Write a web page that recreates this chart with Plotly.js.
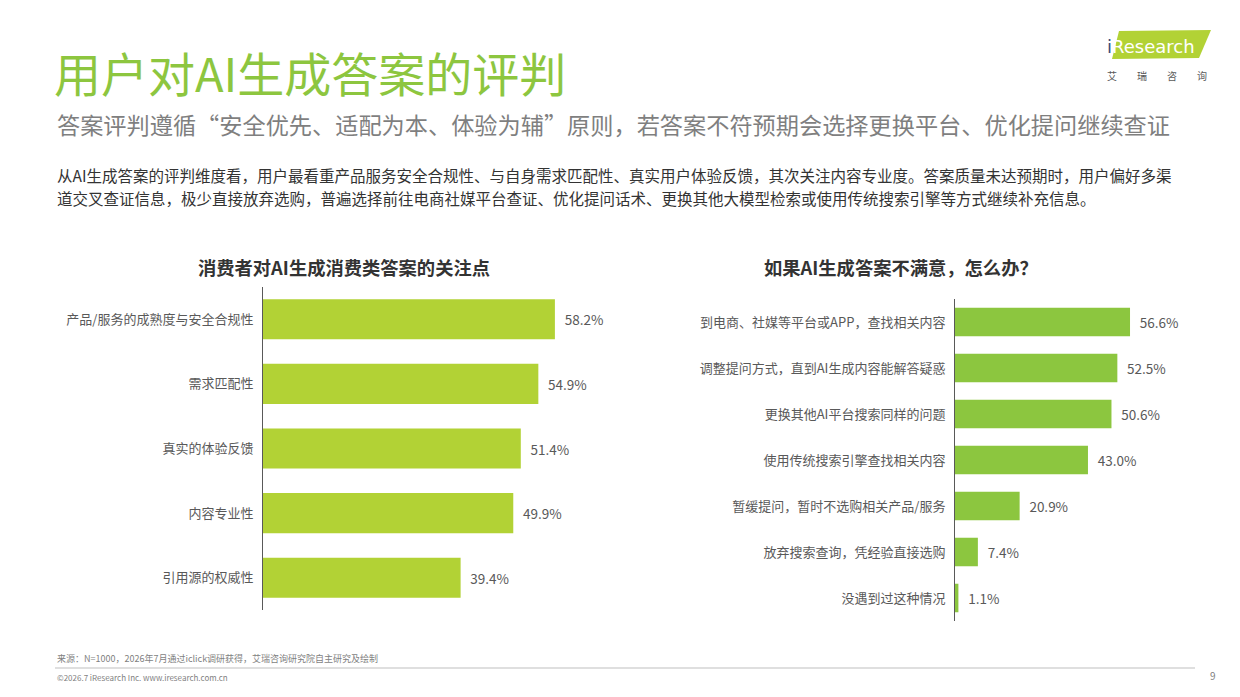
<!DOCTYPE html>
<html>
<head>
<meta charset="utf-8">
<script src="https://cdn.plot.ly/plotly-3.0.1.min.js"></script>
<style>
html,body{margin:0;padding:0;background:#fff;}
#chart{width:1240px;height:697px;}
</style>
</head>
<body>
<div id="chart"></div>
<script>
// ---- data ----
const leftCategories = ["产品/服务的成熟度与安全合规性","需求匹配性","真实的体验反馈","内容专业性","引用源的权威性"];
const leftValues = [58.2, 54.9, 51.4, 49.9, 39.4];

const rightCategories = ["到电商、社媒等平台或APP，查找相关内容","调整提问方式，直到AI生成内容能解答疑惑","更换其他AI平台搜索同样的问题","使用传统搜索引擎查找相关内容","暂缓提问，暂时不选购相关产品/服务","放弃搜索查询，凭经验直接选购","没遇到过这种情况"];
const rightValues = [56.6, 52.5, 50.6, 43.0, 20.9, 7.4, 1.1];

const pageTitle = "用户对AI生成答案的评判";
const subTitle = "答案评判遵循“安全优先、适配为本、体验为辅”原则，若答案不符预期会选择更换平台、优化提问继续查证";
const bodyLine1 = "从AI生成答案的评判维度看，用户最看重产品服务安全合规性、与自身需求匹配性、真实用户体验反馈，其次关注内容专业度。答案质量未达预期时，用户偏好多渠";
const bodyLine2 = "道交叉查证信息，极少直接放弃选购，普遍选择前往电商社媒平台查证、优化提问话术、更换其他大模型检索或使用传统搜索引擎等方式继续补充信息。";
const leftTitle = "消费者对AI生成消费类答案的关注点";
const rightTitle = "如果AI生成答案不满意，怎么办？";
const sourceText = "来源：N=1000，2026年7月通过iclick调研获得，艾瑞咨询研究院自主研究及绘制";
const copyrightText = "©2026.7 iResearch Inc. www.iresearch.com.cn";

// ---- helpers ----
const W = 1240, H = 697;
const px = x => x / W;
const py = y => 1 - y / H;
const FONT = "Noto Sans CJK SC, Noto Sans, sans-serif";

const traces = [
  {
    type: 'bar', orientation: 'h',
    x: leftValues, y: leftCategories,
    xaxis: 'x', yaxis: 'y',
    marker: {color: '#B2D235'},
    texttemplate: '\u2002%{x:.1f}%',
    textposition: 'outside', cliponaxis: false,
    textfont: {size: 13.5, color: '#595959', family: FONT},
    hoverinfo: 'skip'
  },
  {
    type: 'bar', orientation: 'h',
    x: rightValues, y: rightCategories,
    xaxis: 'x2', yaxis: 'y2',
    marker: {color: '#8CC63F'},
    texttemplate: '\u2002%{x:.1f}%',
    textposition: 'outside', cliponaxis: false,
    textfont: {size: 13.5, color: '#595959', family: FONT},
    hoverinfo: 'skip'
  }
];

const hiddenX = {showgrid: false, zeroline: false, showticklabels: false, showline: false, ticks: ''};
const catY = {
  type: 'category', autorange: 'reversed',
  showgrid: false, zeroline: false,
  showline: true, linecolor: '#595959', linewidth: 1,
  ticks: 'outside', ticklen: 6, tickcolor: 'rgba(0,0,0,0)',
  tickfont: {size: 13, color: '#595959', family: FONT}
};

const layout = {
  width: W, height: H,
  margin: {l: 0, r: 0, t: 0, b: 0},
  paper_bgcolor: '#fff', plot_bgcolor: '#fff',
  showlegend: false,
  font: {family: FONT},
  bargap: 0.38,
  xaxis: Object.assign({}, hiddenX, {domain: [px(263), px(589)], range: [0, 65], anchor: 'y'}),
  yaxis: Object.assign({}, catY, {domain: [py(610), py(287)], anchor: 'x'}),
  xaxis2: Object.assign({}, hiddenX, {domain: [px(955), px(1156)], range: [0, 65], anchor: 'y2'}),
  yaxis2: Object.assign({}, catY, {domain: [py(621), py(299)], anchor: 'x2'}),
  shapes: [
    // footer line
    {type: 'line', xref: 'paper', yref: 'paper', x0: px(55), x1: px(1195), y0: py(668), y1: py(668), line: {color: '#BFBFBF', width: 1}},
    // logo parallelogram
    {type: 'path', xref: 'paper', yref: 'paper',
     path: `M ${px(1112)} ${py(59)} L ${px(1119)} ${py(31)} L ${px(1211)} ${py(30)} L ${px(1199)} ${py(58)} Z`,
     fillcolor: '#B2D235', line: {width: 0}}
  ],
  annotations: [
    {text: pageTitle, xref: 'paper', yref: 'paper', x: px(52), y: py(72), xanchor: 'left', yanchor: 'middle', showarrow: false,
     font: {size: 47, color: '#8DC63F', family: FONT}},
    {text: subTitle, xref: 'paper', yref: 'paper', x: px(55), y: py(124), xanchor: 'left', yanchor: 'middle', showarrow: false,
     font: {size: 23.2, color: '#7F7F7F', family: FONT}},
    {text: bodyLine1, xref: 'paper', yref: 'paper', x: px(55), y: py(175), xanchor: 'left', yanchor: 'middle', showarrow: false,
     font: {size: 15.5, color: '#333333', family: FONT}},
    {text: bodyLine2, xref: 'paper', yref: 'paper', x: px(55), y: py(198), xanchor: 'left', yanchor: 'middle', showarrow: false,
     font: {size: 15.5, color: '#333333', family: FONT}},
    {text: '<b>' + leftTitle + '</b>', xref: 'paper', yref: 'paper', x: px(344), y: py(267), xanchor: 'center', yanchor: 'middle', showarrow: false,
     font: {size: 18.3, color: '#333333', family: FONT}},
    {text: '<b>' + rightTitle + '</b>', xref: 'paper', yref: 'paper', x: px(901), y: py(267), xanchor: 'center', yanchor: 'middle', showarrow: false,
     font: {size: 18.3, color: '#333333', family: FONT}},
    {text: sourceText, xref: 'paper', yref: 'paper', x: px(55), y: py(658), xanchor: 'left', yanchor: 'middle', showarrow: false,
     font: {size: 9, color: '#7F7F7F', family: FONT}},
    {text: copyrightText, xref: 'paper', yref: 'paper', x: px(55), y: py(677), xanchor: 'left', yanchor: 'middle', showarrow: false,
     font: {size: 8, color: '#7F7F7F', family: FONT}},
    {text: '9', xref: 'paper', yref: 'paper', x: px(1213), y: py(675), xanchor: 'center', yanchor: 'middle', showarrow: false,
     font: {size: 10, color: '#7F7F7F', family: FONT}},
    {text: '<span style="color:#3A4F7A">i</span>Research', xref: 'paper', yref: 'paper', x: px(1105), y: py(46), xanchor: 'left', yanchor: 'middle', showarrow: false,
     font: {size: 18, color: '#ffffff', family: 'DejaVu Sans, sans-serif'}},
    {text: '艾　　瑞　　咨　　询', xref: 'paper', yref: 'paper', x: px(1157), y: py(75), xanchor: 'center', yanchor: 'middle', showarrow: false,
     font: {size: 10, color: '#595959', family: FONT}}
  ]
};

Plotly.newPlot('chart', traces, layout, {displayModeBar: false, staticPlot: true});
</script>
</body>
</html>
